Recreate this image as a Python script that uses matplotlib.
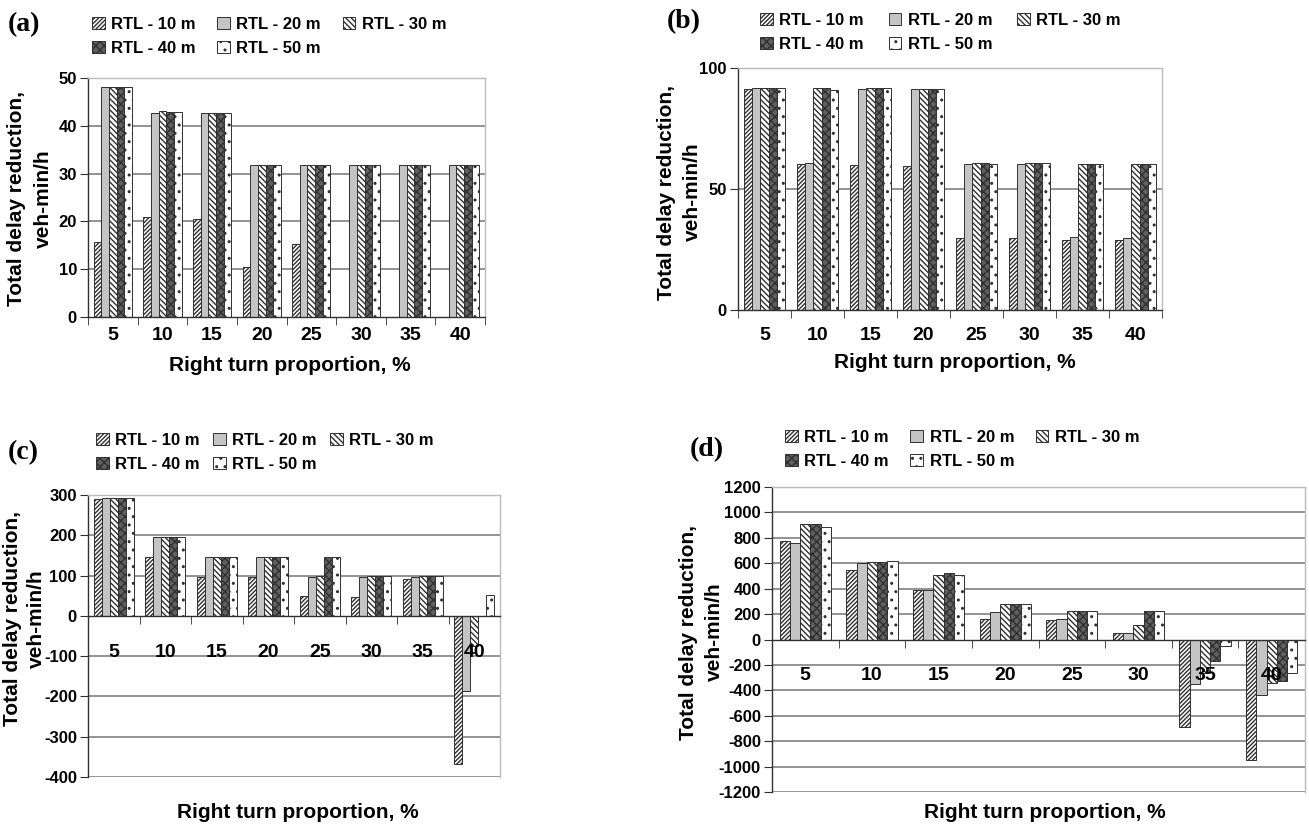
import numpy as np
import matplotlib
matplotlib.use('Agg')
import matplotlib.pyplot as plt

plt.rcParams['font.family'] = ['Liberation Sans', 'DejaVu Sans']
plt.rcParams['font.weight'] = 'bold'
plt.rcParams['hatch.linewidth'] = 1.0

W, H = 1309, 826

cats = ['5', '10', '15', '20', '25', '30', '35', '40']
series = ['RTL - 10 m', 'RTL - 20 m', 'RTL - 30 m', 'RTL - 40 m', 'RTL - 50 m']

# panel (a)
a_10 = [15.7, 20.9, 20.6, 10.4, 15.3, 0, 0, 0]
a_20 = [48.2, 42.7, 42.7, 31.9, 31.9, 31.9, 31.9, 31.9]
a_30 = [48.2, 43.1, 42.7, 31.9, 31.9, 31.9, 31.9, 31.9]
a_40 = [48.2, 42.8, 42.7, 31.9, 31.9, 31.9, 31.9, 31.9]
a_50 = [48.2, 42.8, 42.7, 31.9, 31.9, 31.9, 31.9, 31.9]

# panel (b)
b_10 = [91.2, 60.2, 59.8, 59.6, 29.6, 29.6, 28.9, 28.9]
b_20 = [91.9, 60.9, 91.5, 91.5, 60.5, 60.2, 30.0, 29.6]
b_30 = [91.9, 91.9, 91.9, 91.5, 60.9, 60.9, 60.5, 60.5]
b_40 = [91.9, 91.9, 91.9, 91.5, 60.9, 60.9, 60.5, 60.5]
b_50 = [91.9, 90.9, 91.9, 91.5, 60.4, 60.9, 60.5, 60.5]

# panel (c)
c_10 = [290, 145, 96, 96, 49, 47, 91, -368]
c_20 = [292, 195, 146, 146, 96, 96, 96, -186]
c_30 = [292, 195, 146, 146, 100, 100, 100, -75]
c_40 = [292, 195, 146, 146, 146, 100, 100, 0]
c_50 = [292, 195, 146, 146, 146, 100, 100, 51]

# panel (d)
d_10 = [776, 544, 387, 162, 157, 55, -688, -950]
d_20 = [761, 599, 387, 220, 165, 55, -348, -434]
d_30 = [907, 612, 505, 282, 227, 112, -260, -342]
d_40 = [907, 612, 520, 282, 227, 227, -173, -327]
d_50 = [886, 620, 505, 282, 227, 227, -55, -264]

styles = [
    dict(facecolor='white', hatch='////////'),
    dict(facecolor='#c4c4c4', hatch=None),
    dict(facecolor='white', hatch='\\\\\\\\\\\\'),
    dict(facecolor='#606060', hatch='xxxx'),
    dict(facecolor='white', hatch='..'),
]

fig = plt.figure(figsize=(W / 100, H / 100), dpi=100)


def px_axes(l, t, r, b):
    return fig.add_axes([l / W, 1 - b / H, (r - l) / W, (b - t) / H])


def panel(box, data, ylim, ystep, tag, tag_xy, leg_xy, colsp, ylab_x, ylab_y,
          tick_pad, xlab_xy):
    ax = px_axes(*box)
    # category axis sits on the zero line (set before ticks, it resets them)
    ax.spines['bottom'].set_position(('data', 0))
    x = np.arange(len(cats))
    w = 0.77 / 5
    handles = []
    for i, vals in enumerate(data):
        h = ax.bar(x + (i - 2) * w, vals, w, edgecolor='#303030', linewidth=0.7,
                   zorder=1, **styles[i])
        handles.append(h)
    ax.set_xlim(-0.5, len(cats) - 0.5)
    ax.set_ylim(*ylim)
    yt = np.arange(ylim[0], ylim[1] + 1, ystep)
    ax.set_yticks(yt)
    ax.set_yticklabels([str(v) for v in yt])
    for v in yt:
        if v != 0 and v != ylim[1]:
            ax.axhline(v, color='#808080', lw=1.2, zorder=0.5)
    ax.set_xticks(x)
    ax.set_xticklabels(cats)
    ax.set_xticks(np.arange(-0.5, len(cats)), minor=True)
    ax.tick_params(axis='x', which='major', length=0, pad=tick_pad, labelsize=14)
    ax.tick_params(axis='x', which='minor', length=6, color='#303030', direction='out')
    ax.tick_params(axis='y', length=6, color='#303030', pad=2, labelsize=12)
    ax.spines['bottom'].set_color('#303030')
    ax.spines['left'].set_color('#303030')
    ax.spines['top'].set_color('#bbbbbb')
    ax.spines['right'].set_color('#bbbbbb')
    for s in ax.spines.values():
        s.set_linewidth(1.0)
    if ylim[0] < 0:
        ax.axhline(ylim[0], color='#999999', lw=1.2, zorder=0.5)

    fig.text(tag_xy[0] / W, 1 - tag_xy[1] / H, tag, fontsize=20, fontweight='bold',
             family='Liberation Serif', ha='left', va='center')
    # row-major legend order: 10, 20, 30 / 40, 50
    order = [0, 3, 1, 4, 2]
    fig.legend([handles[k] for k in order], [series[k] for k in order],
               loc='upper left', ncol=3, frameon=False,
               bbox_to_anchor=(leg_xy[0] / W, 1 - leg_xy[1] / H),
               borderaxespad=0, borderpad=0, handlelength=0.75,
               handleheight=0.75, handletextpad=0.4, columnspacing=colsp,
               labelspacing=0.55, prop={'weight': 'bold', 'size': 12})
    fig.text(ylab_x[0] / W, 1 - ylab_y / H, 'Total delay reduction,', rotation=90,
             fontsize=15, fontweight='bold', ha='center', va='center')
    fig.text(ylab_x[1] / W, 1 - ylab_y / H, 'veh-min/h', rotation=90,
             fontsize=15, fontweight='bold', ha='center', va='center')
    fig.text(xlab_xy[0] / W, 1 - xlab_xy[1] / H, 'Right turn proportion, %',
             fontsize=15, fontweight='bold', ha='center', va='center')
    return ax


panel((88, 78, 485, 317), [a_10, a_20, a_30, a_40, a_50], (0, 50), 10, '(a)',
      (8, 25), (92, 17), 1.3, (17, 43), 199, 7, (290, 365))
panel((738, 68, 1162, 310), [b_10, b_20, b_30, b_40, b_50], (0, 100), 50, '(b)',
      (667, 22), (760, 13), 1.5, (666, 692), 192, 12, (955, 362))
panel((88, 495, 500, 777), [c_10, c_20, c_30, c_40, c_50], (-400, 300), 100, '(c)',
      (8, 453), (96, 433), 0.8, (13, 36), 619, 20, (298, 813))
panel((772, 487, 1305, 792), [d_10, d_20, d_30, d_40, d_50], (-1200, 1200), 200, '(d)',
      (690, 450), (785, 430), 1.3, (688, 714), 632, 20, (1045, 813))

fig.savefig('out.png', dpi=100)
